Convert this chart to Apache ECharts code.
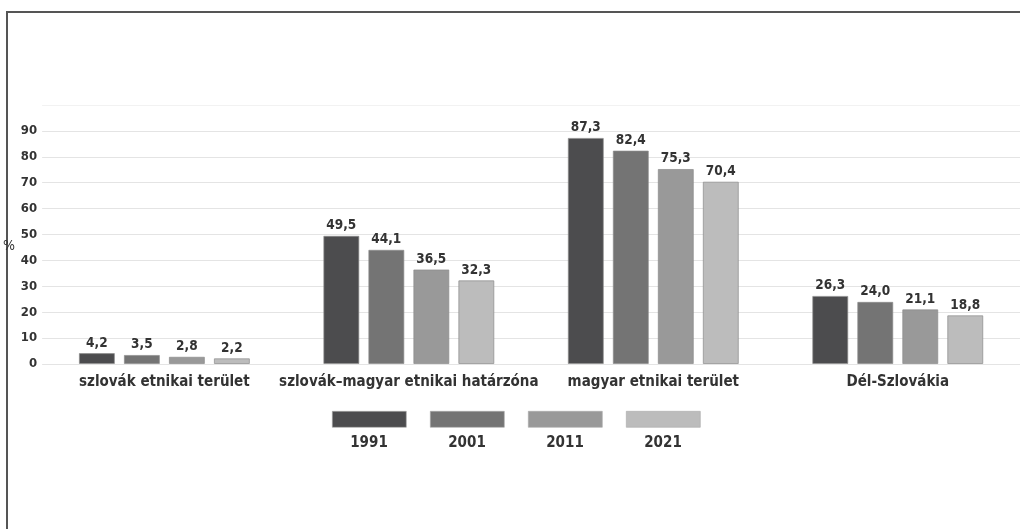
<!DOCTYPE html>
<html><head><meta charset="utf-8">
<script src="https://cdn.jsdelivr.net/npm/echarts@6/dist/echarts.min.js"></script>
<style>
html,body{margin:0;padding:0;background:#fff;overflow:hidden;}
#frame{position:absolute;left:6px;top:11px;width:1014px;height:518px;border-left:2px solid #555;border-top:2px solid #555;box-sizing:border-box;}
#c{position:absolute;left:0;top:0;width:1020px;height:529px;}
</style></head>
<body>
<div id="frame"></div>
<div id="c"></div>
<script>
var categories = ['szlovák etnikai terület', 'szlovák–magyar etnikai határzóna', 'magyar etnikai terület', 'Dél-Szlovákia'];
var years = ['1991', '2001', '2011', '2021'];
var v1991 = [4.2, 49.5, 87.3, 26.3];
var v2001 = [3.5, 44.1, 82.4, 24.0];
var v2011 = [2.8, 36.5, 75.3, 21.1];
var v2021 = [2.2, 32.3, 70.4, 18.8];
var yTicks = [0, 10, 20, 30, 40, 50, 60, 70, 80, 90];

var values = [v1991, v2001, v2011, v2021];
var colors = ['#4c4c4e', '#747474', '#999999', '#bcbcbc'];
var font = "'DejaVu Sans Condensed', 'Liberation Sans Narrow', Arial, sans-serif";

var chart = echarts.init(document.getElementById('c'), null, {renderer: 'canvas'});

var legendLeft = [332, 430, 528, 626];
var legends = years.map(function (y, i) {
  return {
    data: [y], left: legendLeft[i] - 5, top: 406, itemWidth: 74, itemHeight: 16,
    icon: 'rect', formatter: function () { return ''; }, selectedMode: false,
    itemStyle: {borderColor: '#aaa', borderWidth: 0.6}
  };
});
var graphics = years.map(function (y, i) {
  return {
    type: 'text', x: legendLeft[i] + 37, y: 443,
    style: {text: y, fill: '#333', font: 'bold 15px ' + font, textAlign: 'center', textVerticalAlign: 'middle'}
  };
});

var splitColors = yTicks.map(function () { return '#e4e4e4'; });
splitColors.push('#f2f2f2');

chart.setOption({
  animation: false,
  textStyle: {fontFamily: font},
  color: colors,
  legend: legends,
  graphic: graphics,
  grid: {left: 38, right: 0, top: 105, bottom: 165, containLabel: false},
  xAxis: {
    type: 'category', data: categories,
    axisLine: {show: false}, axisTick: {show: false},
    axisLabel: {color: '#333', fontWeight: 'bold', fontSize: 15, margin: 11, fontFamily: font, interval: 0}
  },
  yAxis: {
    type: 'value', min: 0, max: 100, interval: 10,
    name: '%', nameLocation: 'middle', nameGap: 19, nameRotate: 0,
    nameTextStyle: {color: '#333', fontSize: 14, fontFamily: font, verticalAlign: 'top', padding: [5, 0, 0, 0]},
    axisLine: {show: false}, axisTick: {show: false},
    axisLabel: {
      color: '#333', fontWeight: 'bold', fontSize: 13, margin: 5, fontFamily: font,
      formatter: function (v) { return v >= 100 ? '' : String(v); }
    },
    splitLine: {lineStyle: {color: splitColors, width: 1}}
  },
  series: values.map(function (arr, i) {
    return {
      name: years[i], type: 'bar', data: arr,
      barWidth: 36, barGap: '25%', barCategoryGap: '30%',
      itemStyle: {color: colors[i], borderColor: 'rgba(140,140,140,0.7)', borderWidth: 1},
      label: {
        show: true, position: 'top', distance: 3, color: '#333',
        fontWeight: 'bold', fontSize: 13.5, fontFamily: font,
        formatter: function (p) { return p.value.toFixed(1).replace('.', ','); }
      }
    };
  })
});
</script>
</body></html>
